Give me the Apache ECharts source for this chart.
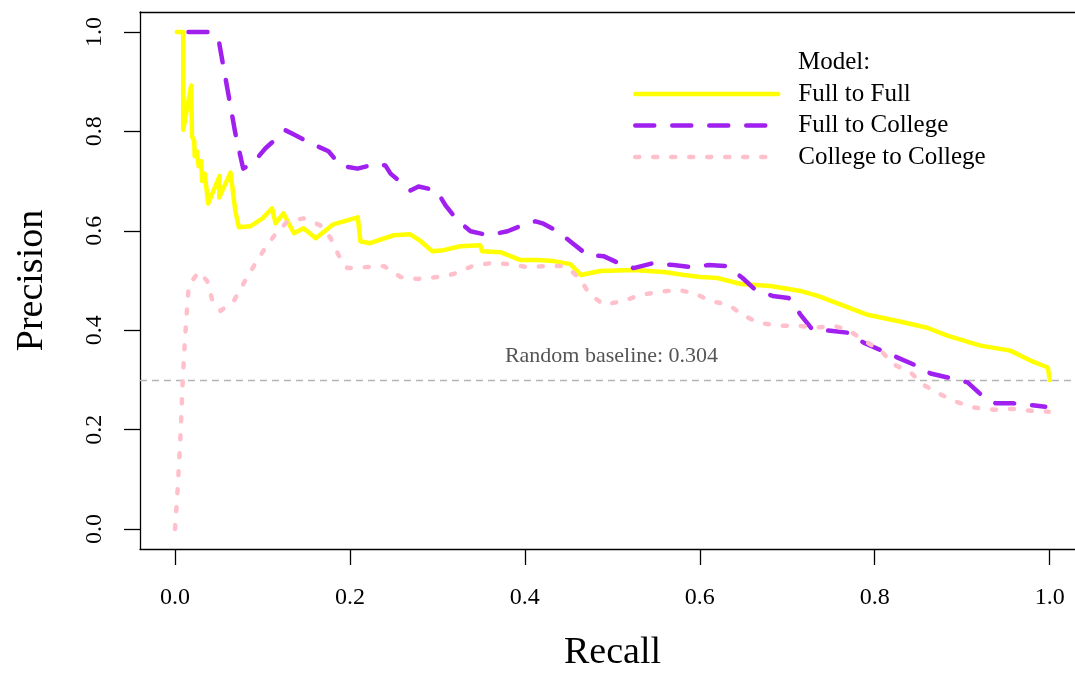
<!DOCTYPE html>
<html>
<head>
<meta charset="utf-8">
<script src="https://cdn.jsdelivr.net/npm/echarts@6/dist/echarts.min.js"></script>
<style>
  html, body { margin: 0; padding: 0; background: #fff; }
  #chart { width: 1075px; height: 677px; }
</style>
</head>
<body>
<div id="chart"></div>
<script>
// values
const seriesNames = ['Full to Full', 'Full to College', 'College to College'];
const tickValues = [0, 0.2, 0.4, 0.6, 0.8, 1.0];
const baseline = 0.304;

const fullFullRecall = [0.002, 0.0094, 0.0094, 0.0185, 0.0195, 0.022, 0.0225, 0.025, 0.027, 0.030, 0.031, 0.034, 0.038,
  0.051, 0.0505, 0.0635, 0.069, 0.073, 0.086, 0.100, 0.111, 0.115, 0.124, 0.136, 0.147, 0.161, 0.181, 0.209, 0.212,
  0.223, 0.250, 0.269, 0.281, 0.294, 0.307, 0.326, 0.349, 0.351, 0.372, 0.395, 0.414, 0.433, 0.452, 0.460, 0.464,
  0.486, 0.524, 0.559, 0.582, 0.601, 0.620, 0.647, 0.681, 0.715, 0.735, 0.765, 0.792, 0.830, 0.860, 0.883, 0.921,
  0.955, 0.978, 0.998, 1.0];
const fullFullPrecision = [1.0, 1.0, 0.803, 0.892, 0.79, 0.78, 0.75, 0.76, 0.73, 0.74, 0.70, 0.715, 0.655,
  0.71, 0.667, 0.717, 0.64, 0.607, 0.609, 0.625, 0.645, 0.615, 0.635, 0.595, 0.605, 0.585, 0.613, 0.627, 0.579,
  0.575, 0.591, 0.593, 0.579, 0.559, 0.561, 0.569, 0.571, 0.559, 0.557, 0.541, 0.541, 0.539, 0.533, 0.519, 0.511,
  0.519, 0.521, 0.517, 0.511, 0.507, 0.505, 0.493, 0.489, 0.479, 0.469, 0.449, 0.431, 0.417, 0.405, 0.389, 0.369,
  0.359, 0.339, 0.325, 0.30];

const fullCollegeRecall = [0.0154, 0.0383, 0.0497, 0.069, 0.078, 0.0886, 0.1035, 0.1264, 0.1355, 0.155, 0.1755,
  0.1893, 0.2087, 0.2316, 0.2407, 0.2464, 0.2693, 0.2784, 0.299, 0.3093, 0.323, 0.3379, 0.3585, 0.3802, 0.3985,
  0.4122, 0.4202, 0.4374, 0.4545, 0.4717, 0.490, 0.5071, 0.5243, 0.5472, 0.570, 0.5895, 0.610, 0.6318, 0.6489,
  0.6638, 0.6833, 0.7015, 0.7153, 0.729, 0.7496, 0.769, 0.7873, 0.8262, 0.8445, 0.8639, 0.8834, 0.9062, 0.9211,
  0.9383, 0.9588, 0.9806, 0.995];
const fullCollegePrecision = [1.0, 1.0, 0.986, 0.796, 0.725, 0.735, 0.766, 0.802, 0.794, 0.776, 0.760,
  0.731, 0.725, 0.735, 0.731, 0.715, 0.681, 0.689, 0.681, 0.651, 0.621, 0.599, 0.591, 0.599, 0.612,
  0.619, 0.615, 0.599, 0.575, 0.551, 0.549, 0.535, 0.525, 0.535, 0.531, 0.527, 0.531, 0.529, 0.505,
  0.481, 0.469, 0.465, 0.431, 0.401, 0.399, 0.395, 0.375, 0.345, 0.331, 0.313, 0.305, 0.295, 0.271,
  0.253, 0.253, 0.249, 0.246];

const collegeRecall = [0.0, 0.003, 0.0063, 0.009, 0.0112, 0.014, 0.0158, 0.0272, 0.0368, 0.0425, 0.052, 0.0672,
  0.0787, 0.0901, 0.1015, 0.113, 0.128, 0.147, 0.166, 0.178, 0.187, 0.197, 0.239, 0.258, 0.277, 0.300, 0.3185,
  0.340, 0.361, 0.381, 0.403, 0.426, 0.444, 0.456, 0.464, 0.473, 0.490, 0.513, 0.532, 0.553, 0.5746, 0.593,
  0.612, 0.633, 0.649, 0.667, 0.692, 0.712, 0.732, 0.753, 0.769, 0.790, 0.807, 0.822, 0.841, 0.855, 0.875,
  0.895, 0.915, 0.936, 0.958, 0.978, 0.999];
const collegePrecision = [0.0, 0.078, 0.188, 0.305, 0.375, 0.449, 0.491, 0.517, 0.499, 0.461, 0.439, 0.459,
  0.495, 0.529, 0.561, 0.589, 0.618, 0.625, 0.611, 0.585, 0.551, 0.525, 0.529, 0.507, 0.503, 0.507, 0.513,
  0.529, 0.535, 0.533, 0.527, 0.529, 0.529, 0.515, 0.501, 0.475, 0.451, 0.459, 0.471, 0.477, 0.481, 0.475,
  0.459, 0.451, 0.431, 0.415, 0.409, 0.409, 0.405, 0.409, 0.401, 0.377, 0.359, 0.331, 0.315, 0.291, 0.271,
  0.255, 0.244, 0.240, 0.242, 0.238, 0.236];

const zip = (xs, ys) => xs.map((x, i) => [x, ys[i]]);

const serif = '"Liberation Serif", "DejaVu Serif", serif';
const chart = echarts.init(document.getElementById('chart'), null, { renderer: 'canvas' });

// plot region runs past the right edge of the picture, as in the reference
const xMin = -0.04;
const xMax = 1.029;

const styles = [
  { color: '#FFFF00', width: 4.5, type: 'solid', cap: 'round', join: 'round' },
  { color: '#A020F0', width: 4.5, type: [19, 18], cap: 'round', join: 'round' },
  { color: '#FFC0CB', width: 4.5, type: [4, 14], cap: 'round', join: 'round' }
];

chart.setOption({
  animation: false,
  backgroundColor: '#ffffff',
  textStyle: { fontFamily: serif },
  title: {
    text: 'Model:',
    left: 798,
    top: 50,
    padding: 0,
    textStyle: { fontFamily: serif, fontSize: 25, fontWeight: 'normal', color: '#000' }
  },
  legend: {
    data: seriesNames.map((name, i) => ({ name, lineStyle: styles[i] })),
    orient: 'vertical',
    left: 633,
    top: 81.5,
    padding: 0,
    itemWidth: 143,
    itemHeight: 14,
    itemGap: 6.5,
    // hide the symbol in the middle of the legend line, keep the line
    itemStyle: { opacity: 0 },
    textStyle: { fontFamily: serif, fontSize: 25, color: '#000', lineHeight: 25, padding: [0, 0, 0, 15] }
  },
  grid: {
    left: 140,
    top: 12,
    right: 0,
    height: 540,
    show: false
  },
  xAxis: [
    {
      type: 'value',
      min: xMin,
      max: xMax,
      name: 'Recall',
      nameLocation: 'middle',
      nameGap: 85,
      nameTextStyle: { fontFamily: serif, fontSize: 38, color: '#000', padding: [0, 0, 0, 10] },
      axisLine: { show: true, onZero: false, lineStyle: { color: '#000', width: 1.3 } },
      axisTick: { show: true, length: 16, customValues: tickValues, lineStyle: { color: '#000', width: 1.3 } },
      axisLabel: {
        customValues: tickValues,
        margin: 37,
        fontFamily: serif, fontSize: 24, color: '#000',
        formatter: v => v.toFixed(1)
      },
      splitLine: { show: false }
    },
    {
      type: 'value',
      position: 'top',
      min: xMin,
      max: xMax,
      axisLine: { show: true, onZero: false, lineStyle: { color: '#000', width: 1.3 } },
      axisTick: { show: false },
      axisLabel: { show: false },
      splitLine: { show: false }
    }
  ],
  yAxis: {
    type: 'value',
    min: -0.04,
    max: 1.04,
    name: 'Precision',
    nameLocation: 'middle',
    nameRotate: 90,
    nameGap: 89,
    nameTextStyle: { fontFamily: serif, fontSize: 38, color: '#000' },
    axisLine: { show: true, onZero: false, lineStyle: { color: '#000', width: 1.3 } },
    axisTick: { show: true, length: 16, customValues: tickValues, lineStyle: { color: '#000', width: 1.3 } },
    axisLabel: {
      customValues: tickValues,
      rotate: 90,
      margin: 33,
      fontFamily: serif, fontSize: 24, color: '#000',
      formatter: v => v.toFixed(1)
    },
    splitLine: { show: false }
  },
  series: [
    {
      name: seriesNames[0],
      type: 'line',
      data: zip(fullFullRecall, fullFullPrecision),
      symbol: 'none',
      lineStyle: styles[0],
      itemStyle: { color: styles[0].color },
      markLine: {
        silent: true,
        symbol: 'none',
        data: [{ yAxis: baseline }],
        lineStyle: { color: '#B5B5B5', type: [7, 5], width: 1.3 },
        label: {
          show: true,
          position: 'insideMiddleTop',
          distance: 13,
          offset: [4, 0],
          formatter: 'Random baseline: ' + baseline,
          fontFamily: serif,
          fontSize: 22,
          color: '#555'
        },
        z: 1
      }
    },
    {
      name: seriesNames[1],
      type: 'line',
      data: zip(fullCollegeRecall, fullCollegePrecision),
      symbol: 'none',
      lineStyle: styles[1],
      itemStyle: { color: styles[1].color }
    },
    {
      name: seriesNames[2],
      type: 'line',
      data: zip(collegeRecall, collegePrecision),
      symbol: 'none',
      lineStyle: styles[2],
      itemStyle: { color: styles[2].color }
    }
  ]
});
</script>
</body>
</html>
